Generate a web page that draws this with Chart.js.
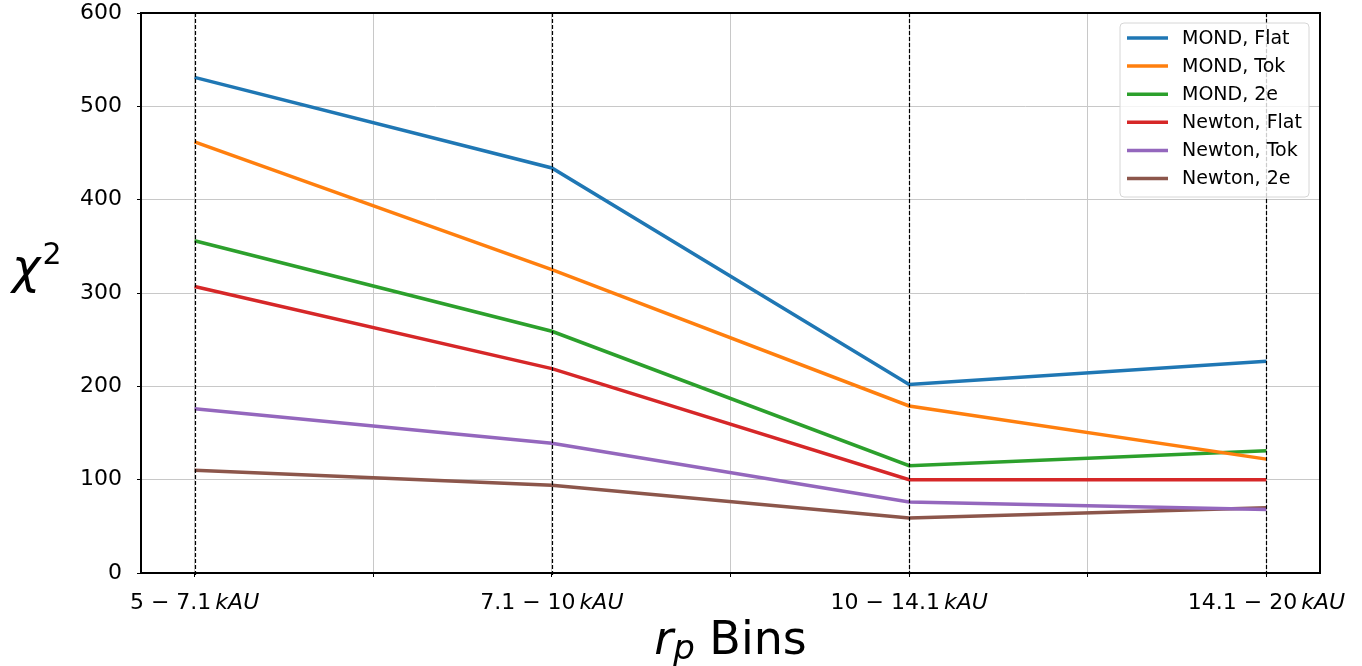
<!DOCTYPE html>
<html>
<head>
<meta charset="utf-8">
<title>Chi-squared per r_p bin</title>
<script src="https://cdn.jsdelivr.net/npm/chart.js@4.4.1/dist/chart.umd.min.js"></script>
<style>
  html, body { margin: 0; padding: 0; background: #fff; }
  canvas { display: block; }
</style>
</head>
<body>
<canvas id="myChart" width="1362" height="666"></canvas>
<script>
// bins and values
const bins = ['5 − 7.1', '7.1 − 10', '10 − 14.1', '14.1 − 20'];
const binUnit = 'kAU';
const yTicks = [0, 100, 200, 300, 400, 500, 600];

const mondFlat = [531, 434, 202, 227];
const mondTok = [462, 325, 179, 122];
const mond2e = [356, 259, 115, 131];
const newtonFlat = [307, 219, 100, 100];
const newtonTok = [176, 139, 76, 68];
const newton2e = [110, 94, 59, 70];

const seriesNames = ['MOND, Flat', 'MOND, Tok', 'MOND, 2e', 'Newton, Flat', 'Newton, Tok', 'Newton, 2e'];
const seriesValues = [mondFlat, mondTok, mond2e, newtonFlat, newtonTok, newton2e];
const seriesColors = ['#1f77b4', '#ff7f0e', '#2ca02c', '#d62728', '#9467bd', '#8c564b'];

const FONT = '"DejaVu Sans", sans-serif';

const datasets = seriesNames.map(function (name, i) {
  return {
    label: name,
    data: seriesValues[i].map(function (v, j) { return { x: j, y: v }; }),
    borderColor: seriesColors[i],
    backgroundColor: seriesColors[i],
    borderWidth: 3.5,
    pointRadius: 0,
    tension: 0,
    fill: false,
  };
});

// frame, dashed bin markers, bin labels, axis titles, legend
const decorations = {
  id: 'decorations',
  afterDatasetsDraw(chart) {
    const ctx = chart.ctx;
    const area = chart.chartArea;
    const xs = chart.scales.x;

    ctx.save();
    // dashed line at each bin centre
    ctx.strokeStyle = '#000';
    ctx.lineWidth = 1.2;
    ctx.setLineDash([4, 2]);
    bins.forEach(function (b, i) {
      const px = Math.round(xs.getPixelForValue(i)) + 0.5;
      ctx.beginPath();
      ctx.moveTo(px, area.top);
      ctx.lineTo(px, area.bottom + 4);
      ctx.stroke();
    });
    ctx.setLineDash([]);

    // axes frame
    ctx.lineWidth = 2;
    ctx.strokeRect(area.left, area.top, area.right - area.left, area.bottom - area.top);
    ctx.restore();
  },
  afterDraw(chart) {
    const ctx = chart.ctx;
    const area = chart.chartArea;
    const xs = chart.scales.x;

    ctx.save();
    ctx.fillStyle = '#000';
    ctx.textBaseline = 'alphabetic';
    ctx.textAlign = 'left';

    // bin tick labels: number range upright, unit italic
    bins.forEach(function (b, i) {
      ctx.font = '22px ' + FONT;
      const w1 = ctx.measureText(b).width;
      ctx.font = 'italic 22px ' + FONT;
      const w2 = ctx.measureText(binUnit).width;
      const gap = 4;
      const x0 = xs.getPixelForValue(i) - (w1 + gap + w2) / 2;
      ctx.font = '22px ' + FONT;
      ctx.fillText(b, x0, 609);
      ctx.font = 'italic 22px ' + FONT;
      ctx.fillText(binUnit, x0 + w1 + gap, 609);
    });

    // x title: r_p Bins
    ctx.font = 'italic 46px ' + FONT;
    const wr = ctx.measureText('r').width;
    ctx.font = 'italic 34px ' + FONT;
    const wp = ctx.measureText('p').width;
    ctx.font = '46px ' + FONT;
    const wb = ctx.measureText(' Bins').width;
    const tx = (area.left + area.right) / 2 - (wr + wp + wb) / 2;
    ctx.font = 'italic 46px ' + FONT;
    ctx.fillText('r', tx, 654);
    ctx.font = 'italic 34px ' + FONT;
    ctx.fillText('p', tx + wr, 659);
    ctx.font = '46px ' + FONT;
    ctx.fillText(' Bins', tx + wr + wp, 654);

    // y title: chi squared
    ctx.font = 'italic 48px ' + FONT;
    ctx.fillText('χ', 12, 283);
    const wc = ctx.measureText('χ').width;
    ctx.font = '30px ' + FONT;
    ctx.fillText('2', 12 + wc + 2, 264);

    // legend box
    const lx = 1120, ly = 23, lw = 189, lh = 174, r = 4;
    ctx.beginPath();
    ctx.moveTo(lx + r, ly);
    ctx.arcTo(lx + lw, ly, lx + lw, ly + lh, r);
    ctx.arcTo(lx + lw, ly + lh, lx, ly + lh, r);
    ctx.arcTo(lx, ly + lh, lx, ly, r);
    ctx.arcTo(lx, ly, lx + lw, ly, r);
    ctx.closePath();
    ctx.fillStyle = 'rgba(255,255,255,0.8)';
    ctx.fill();
    ctx.strokeStyle = '#d6d6d6';
    ctx.lineWidth = 1;
    ctx.stroke();

    ctx.font = '19px ' + FONT;
    ctx.textBaseline = 'middle';
    chart.data.datasets.forEach(function (ds, i) {
      const rowY = 38 + i * 28.1;
      ctx.strokeStyle = ds.borderColor;
      ctx.lineWidth = 3.5;
      ctx.beginPath();
      ctx.moveTo(1127, rowY);
      ctx.lineTo(1168, rowY);
      ctx.stroke();
      ctx.fillStyle = '#000';
      ctx.fillText(ds.label, 1182, rowY + 1);
    });
    ctx.restore();
  },
};

const ctx = document.getElementById('myChart').getContext('2d');

// eslint-disable-next-line
const chart = new Chart(ctx, {
  type: 'line',
  data: { datasets: datasets },
  plugins: [decorations],
  options: {
    responsive: false,
    animation: false,
    layout: { padding: { top: 13, right: 42, left: 0, bottom: 0 } },
    plugins: {
      legend: { display: false },
      tooltip: { enabled: false },
    },
    scales: {
      x: {
        type: 'linear',
        min: -0.15,
        max: 3.15,
        afterBuildTicks(scale) {
          const t = [];
          for (let v = 0; v <= bins.length - 1; v += 0.5) t.push({ value: v });
          scale.ticks = t;
        },
        afterFit(scale) {
          scale.height = 93;
          scale.paddingLeft = 0;
          scale.paddingRight = 0;
        },
        ticks: { display: false },
        grid: { color: '#c8c8c8', lineWidth: 1, tickColor: '#000', tickLength: 4, drawTicks: true },
        border: { display: false },
      },
      y: {
        min: 0,
        max: 600,
        afterBuildTicks(scale) {
          scale.ticks = yTicks.map(function (v) { return { value: v }; });
        },
        afterFit(scale) {
          scale.width = 141;
          scale.paddingTop = 0;
          scale.paddingBottom = 0;
        },
        ticks: {
          color: '#000',
          padding: 15,
          font: { family: 'DejaVu Sans', size: 22 },
        },
        grid: { color: '#c8c8c8', lineWidth: 1, tickColor: '#000', tickLength: 4 },
        border: { display: false },
      },
    },
  },
});
</script>
</body>
</html>
